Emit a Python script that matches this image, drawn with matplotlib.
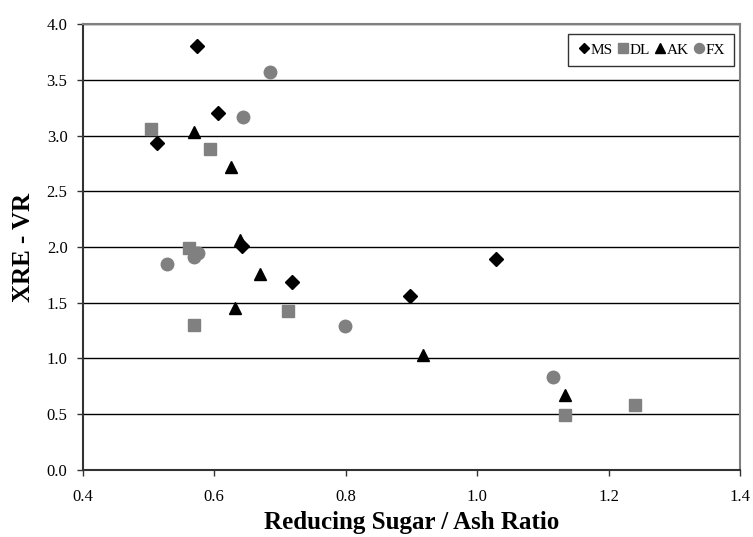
import numpy as np
import matplotlib
matplotlib.use('Agg')
import matplotlib.pyplot as plt

plt.rcParams['font.family'] = ['Liberation Serif', 'DejaVu Serif']

# data (reducing sugar / ash ratio, XRE - VR)
ms_x = [0.573, 0.605, 0.513, 0.642, 0.718, 0.898, 1.028]
ms_y = [3.80, 3.20, 2.93, 2.01, 1.69, 1.56, 1.89]

dl_x = [0.504, 0.594, 0.561, 0.712, 0.569, 1.134, 1.240]
dl_y = [3.06, 2.88, 1.99, 1.43, 1.30, 0.49, 0.58]

ak_x = [0.569, 0.625, 0.639, 0.670, 0.631, 0.917, 1.134]
ak_y = [3.03, 2.72, 2.06, 1.76, 1.45, 1.03, 0.67]

fx_x = [0.684, 0.643, 0.575, 0.569, 0.528, 0.799, 1.115]
fx_y = [3.57, 3.17, 1.95, 1.91, 1.85, 1.29, 0.83]

xticks = [0.4, 0.6, 0.8, 1.0, 1.2, 1.4]
yticks = [0.0, 0.5, 1.0, 1.5, 2.0, 2.5, 3.0, 3.5, 4.0]

fig = plt.figure(figsize=(7.53, 5.37), dpi=100)
ax = fig.add_axes([0.110, 0.125, 0.873, 0.830])

gray = '#808080'
ax.plot(ms_x, ms_y, 'D', color='black', ms=7, label='MS', zorder=3)
ax.plot(dl_x, dl_y, 's', color=gray, ms=8.5, label='DL', zorder=3)
ax.plot(ak_x, ak_y, '^', color='black', ms=9, label='AK', zorder=3)
ax.plot(fx_x, fx_y, 'o', color=gray, ms=9, label='FX', zorder=3)

ax.set_xlim(0.4, 1.4)
ax.set_ylim(0, 4.0)
ax.set_xticks(xticks)
ax.set_yticks(yticks)
ax.set_xticklabels(['%.1f' % t for t in xticks])
ax.set_yticklabels(['%.1f' % t for t in yticks])
ax.tick_params(direction='out', length=4, width=1, labelsize=12, color='#333333')
ax.tick_params(axis='x', pad=10)
ax.tick_params(axis='y', pad=7)

# horizontal gridlines
ax.yaxis.grid(True, color='black', linewidth=1)
ax.set_axisbelow(True)

ax.spines['left'].set_color('#333333')
ax.spines['bottom'].set_color('#333333')
ax.spines['left'].set_linewidth(1.5)
ax.spines['bottom'].set_linewidth(1.5)
ax.spines['top'].set_color(gray)
ax.spines['right'].set_color(gray)
ax.spines['top'].set_linewidth(1.5)
ax.spines['right'].set_linewidth(1.5)

ax.set_xlabel('Reducing Sugar / Ash Ratio', fontsize=18, fontweight='bold', labelpad=4)
ax.set_ylabel('XRE - VR', fontsize=18, fontweight='bold', labelpad=8)

leg = ax.legend(loc='upper right', bbox_to_anchor=(0.991, 0.978), ncol=4,
                fontsize=11, frameon=True, fancybox=False, edgecolor='black',
                handletextpad=0.0, columnspacing=0.2, handlelength=0.9,
                borderpad=0.6, borderaxespad=0, markerscale=0.8)
leg.get_frame().set_linewidth(1)

plt.savefig('out.png', dpi=100)
